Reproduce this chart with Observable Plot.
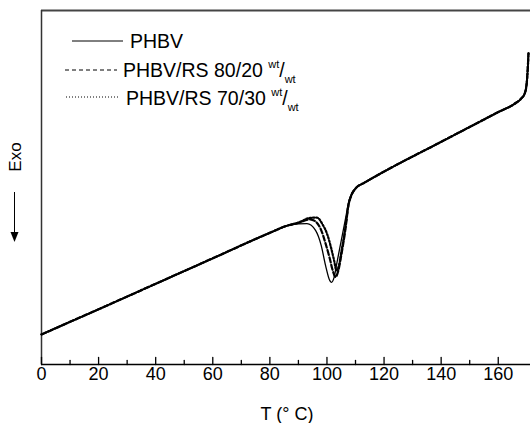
<!DOCTYPE html>
<html>
<head>
<meta charset="utf-8">
<script src="https://cdn.jsdelivr.net/npm/d3@7"></script>
<script src="https://cdn.jsdelivr.net/npm/@observablehq/plot@0.6"></script>
<style>
  html, body { margin: 0; padding: 0; background: #fff; }
  #chart svg { display: block; font-family: "Liberation Sans", Arial, sans-serif; }
</style>
</head>
<body>
<div id="chart"></div>
<script>
// ---- data ----
const tPHBV = [0,20,40,60,80,86,90,93,96,98,99.5,101,101.6,102.5,103.5,105,106.5,107.5,108.5,110,113,116,120,140,160,166,168,169.3,170,170.4,170.6];
const yPHBV = [8.5,15.6,22.8,30.0,37.2,39.2,39.7,39.8,37.9,33.6,28.0,23.7,23.2,24.6,28.8,35.0,41.2,45.5,48.0,49.7,51.3,52.7,54.5,62.9,71.3,73.8,75.1,76.6,79.7,84.5,87.9];

const t8020 = [0,20,40,60,80,86,90,94,96,98,99.5,101,102,103,104,105,106.5,107.5,108.5,110,113,116,120,140,160,166,168,169.3,170,170.4,170.6];
const y8020 = [8.5,15.6,22.8,30.0,37.2,39.2,40.0,41.0,40.4,37.9,34.2,29.9,26.6,24.7,26.6,30.8,38.4,44.9,47.7,49.7,51.3,52.7,54.5,62.9,71.3,73.8,75.1,76.6,79.7,84.5,87.9];

const t7030 = [0,20,40,60,80,86,90,94,96.5,98.5,100,101.5,102.5,103.3,104.2,105,106.5,107.5,108.5,110,113,116,120,140,160,166,168,169.3,170,170.4,170.6];
const y7030 = [8.5,15.6,22.8,30.0,37.2,39.2,40.1,41.4,41.5,39.5,37.0,32.8,29.4,26.6,28.0,31.6,39.0,44.9,47.7,49.7,51.3,52.7,54.5,62.9,71.3,73.8,75.1,76.6,79.7,84.5,87.9];

const majorTicks = [0,20,40,60,80,100,120,140,160];
const minorTicks = [10,30,50,70,90,110,130,150];
const xLabel = "T (° C)";
const yLabel = "Exo";
const seriesNames = ["PHBV", "PHBV/RS 80/20", "PHBV/RS 70/30"];

// ---- tables ----
const toRows = (ts, ys) => ts.map((t, i) => ({T: t, v: ys[i]}));
const rowsPHBV = toRows(tPHBV, yPHBV);
const rows8020 = toRows(t8020, y8020);
const rows7030 = toRows(t7030, y7030);

const tickShape = () => ({draw(ctx, l) { ctx.moveTo(0, 0); ctx.lineTo(0, -l); }});

const chart = Plot.plot({
  width: 530,
  height: 423,
  marginLeft: 41,
  marginRight: 0,
  marginTop: 10,
  marginBottom: 59,
  style: {fontFamily: '"Liberation Sans", Arial, sans-serif', color: "#000", background: "#fff"},
  x: {domain: [0, 171.3]},
  y: {domain: [0, 100], axis: null},
  marks: [
    Plot.ruleY([100], {stroke: "#444", strokeWidth: 2}),
    Plot.ruleX([0], {stroke: "#333", strokeWidth: 1.5}),
    Plot.ruleY([0], {stroke: "#000", strokeWidth: 1.5}),
    Plot.vector(majorTicks, {x: d => d, y: 0, length: 7, rotate: 0, anchor: "start", shape: tickShape(), stroke: "#000", strokeWidth: 1.3}),
    Plot.vector(minorTicks, {x: d => d, y: 0, length: 4, rotate: 0, anchor: "start", shape: tickShape(), stroke: "#000", strokeWidth: 1.3}),
    Plot.axisX({ticks: majorTicks, tickSize: 0, tickPadding: 3, fontSize: 18, label: null, tickFormat: d => String(d)}),
    Plot.line(rows7030, {x: "T", y: "v", curve: "monotone-x", stroke: "#000", strokeWidth: 2.2, strokeDasharray: "1.6,1.8"}),
    Plot.line(rows8020, {x: "T", y: "v", curve: "monotone-x", stroke: "#000", strokeWidth: 2.2, strokeDasharray: "5,2.5"}),
    Plot.line(rowsPHBV, {x: "T", y: "v", curve: "monotone-x", stroke: "#000", strokeWidth: 1.3})
  ]
});

document.getElementById("chart").appendChild(chart);

// ---- annotations: legend, axis titles ----
const svg = d3.select(chart);
const ff = '"Liberation Sans", Arial, sans-serif';

// x axis title
svg.append("text").attr("x", 287).attr("y", 420).attr("text-anchor", "middle")
  .attr("font-size", 18).attr("font-family", ff).attr("fill", "#000").text(xLabel);

// y axis title + arrow
svg.append("text").attr("transform", "translate(21,157) rotate(-90)").attr("text-anchor", "middle")
  .attr("font-size", 17).attr("font-family", ff).attr("fill", "#000").text(yLabel);
svg.append("line").attr("x1", 14.5).attr("x2", 14.5).attr("y1", 192).attr("y2", 234)
  .attr("stroke", "#000").attr("stroke-width", 1);
svg.append("path").attr("d", "M10.5,232 L18.5,232 L14.5,242 Z").attr("fill", "#000");

// legend
const legend = svg.append("g").attr("font-family", ff).attr("fill", "#000").attr("text-anchor", "start");
const items = [
  {x1: 72, x2: 123, y: 41, dash: null, tx: 130, ty: 48, name: seriesNames[0], sup: false},
  {x1: 65, x2: 117, y: 70, dash: "4,3", tx: 123, ty: 77, name: seriesNames[1], sup: true},
  {x1: 66, x2: 120, y: 97, dash: "1,2", tx: 126, ty: 105, name: seriesNames[2], sup: true}
];
items.forEach(it => {
  const ln = legend.append("line").attr("x1", it.x1).attr("x2", it.x2).attr("y1", it.y).attr("y2", it.y)
    .attr("stroke", "#000").attr("stroke-width", 1);
  if (it.dash) ln.attr("stroke-dasharray", it.dash);
  const t = legend.append("text").attr("x", it.tx).attr("y", it.ty).attr("font-size", 19.5).attr("text-anchor", "start");
  t.append("tspan").text(it.name + " ");
  if (it.sup) {
    t.append("tspan").attr("font-size", 11).attr("dy", -9).text("wt");
    t.append("tspan").attr("font-size", 19.5).attr("dy", 9).text("/");
    t.append("tspan").attr("font-size", 11).attr("dy", 6).text("wt");
  }
});
</script>
</body>
</html>
